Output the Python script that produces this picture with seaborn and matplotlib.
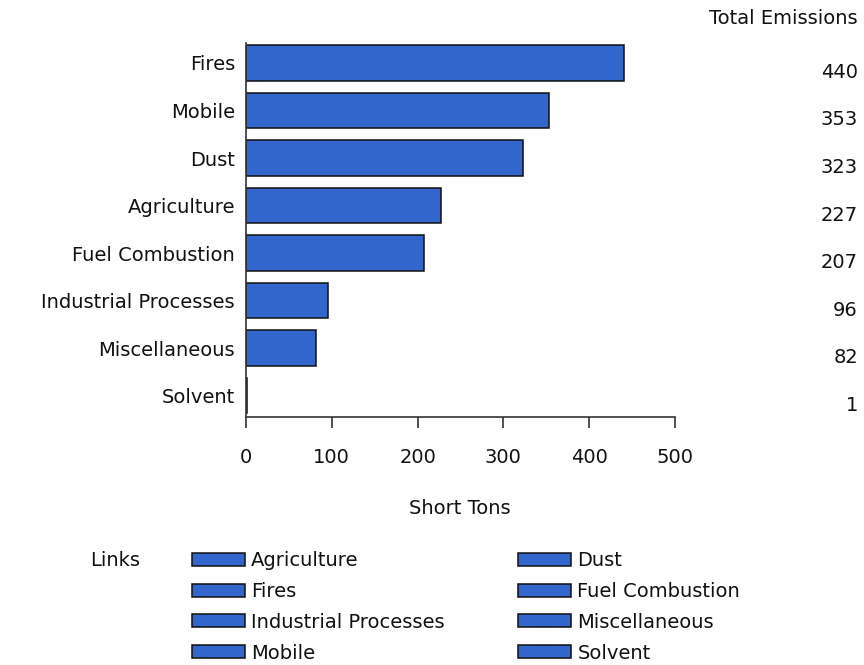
"""Total emissions by source sector, horizontal bar chart."""

import matplotlib

matplotlib.use("Agg")
import matplotlib.pyplot as plt  # noqa: E402
import pandas as pd  # noqa: E402
import seaborn as sns  # noqa: E402
from matplotlib.patches import Patch  # noqa: E402
from matplotlib.transforms import blended_transform_factory  # noqa: E402

sectors = [
    "Fires",
    "Mobile",
    "Dust",
    "Agriculture",
    "Fuel Combustion",
    "Industrial Processes",
    "Miscellaneous",
    "Solvent",
]
emissions = [440, 353, 323, 227, 207, 96, 82, 1]
x_ticks = [0, 100, 200, 300, 400, 500]

BAR_BLUE = "#3366cc"
FONT = ["DejaVu Sans"]
FS = 14


def main() -> None:
    sns.set_theme(style="white")
    plt.rcParams["font.family"] = FONT
    plt.rcParams["font.size"] = FS
    plt.rcParams["text.color"] = "#111111"

    df = pd.DataFrame({"sector": sectors, "tons": emissions})

    fig = plt.figure(figsize=(8.64, 6.65), dpi=100)
    ax = fig.add_axes([246 / 864, 1 - 417 / 665, 429 / 864, 374 / 665])

    sns.barplot(
        data=df,
        x="tons",
        y="sector",
        order=sectors,
        color=BAR_BLUE,
        saturation=1,
        width=0.75,
        edgecolor="#111111",
        linewidth=1.1,
        ax=ax,
    )
    ax.set_xlim(0, 500)
    ax.set_ylim(7.45, -0.42)
    ax.set_xticks(x_ticks)
    ax.set_xticklabels([str(t) for t in x_ticks], fontsize=FS, color="#111111")
    ax.tick_params(axis="x", direction="out", length=8, width=1.2, color="#333333",
                   pad=14, bottom=True)
    ax.tick_params(axis="y", length=0, pad=8, labelsize=FS, labelcolor="#111111")
    ax.set_ylabel("")
    ax.set_xlabel("Short Tons", fontsize=FS, color="#111111")
    ax.xaxis.set_label_coords(460 / 864, 1 - 508 / 665, transform=fig.transFigure)
    ax.xaxis.label.set_va("center")
    sns.despine(ax=ax)
    for side in ("left", "bottom"):
        ax.spines[side].set_color("#333333")
        ax.spines[side].set_linewidth(1.2)

    # Total column on the right
    trans = blended_transform_factory(fig.transFigure, ax.transData)
    fig.text(858 / 864, 1 - 18 / 665, "Total Emissions", ha="right", va="center",
             fontsize=FS)
    for i, v in enumerate(emissions):
        ax.text(858 / 864, i + 0.2, f"{v}", transform=trans, ha="right",
                va="center", fontsize=FS, clip_on=False)

    # Legend laid out in two columns, row-major alphabetical
    names = sorted(sectors)
    fig.text(90 / 864, 1 - 560 / 665, "Links", ha="left", va="center", fontsize=FS)
    for col, x0 in enumerate((192, 518)):
        handles = [Patch(facecolor=BAR_BLUE, edgecolor="#111111", linewidth=1.1)
                   for _ in names[col::2]]
        fig.legend(
            handles,
            names[col::2],
            loc="upper left",
            bbox_to_anchor=(x0 / 864, 1 - 551 / 665),
            frameon=False,
            handlelength=2.7,
            handleheight=0.65,
            handletextpad=0.35,
            labelspacing=0.61,
            borderpad=0,
            borderaxespad=0,
            fontsize=FS,
        )

    fig.savefig("out.png", dpi=100, facecolor="white")


if __name__ == "__main__":
    main()
